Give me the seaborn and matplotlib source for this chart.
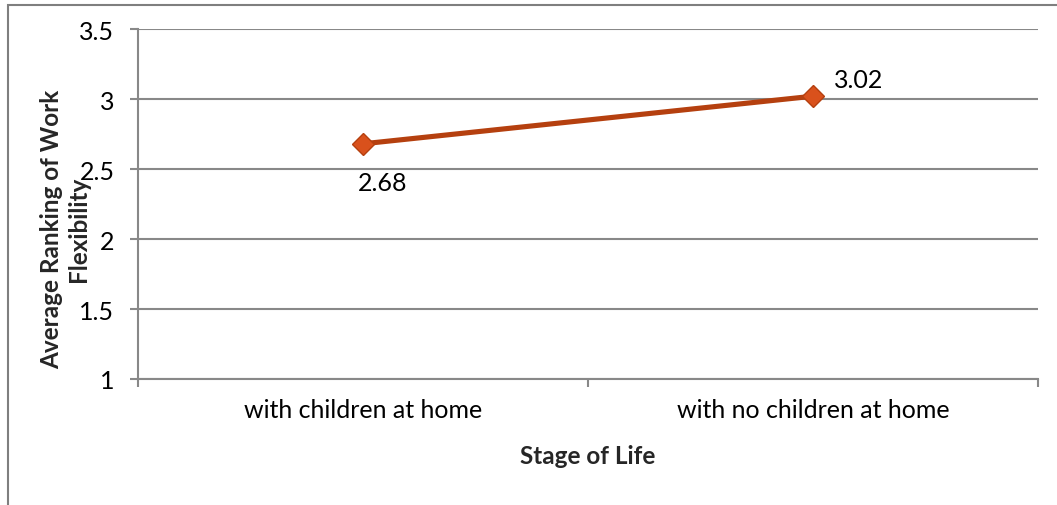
import matplotlib
matplotlib.use("Agg")
import matplotlib.pyplot as plt
from matplotlib.patches import Rectangle
import seaborn as sns
import pandas as pd

# Data
stages = ["with children at home", "with no children at home"]
avg_ranking = [2.68, 3.02]
y_ticks = [1, 1.5, 2, 2.5, 3, 3.5]
y_tick_labels = ["1", "1.5", "2", "2.5", "3", "3.5"]

sns.set_style("white")
plt.rcParams["font.family"] = ["Lato", "DejaVu Sans"]
plt.rcParams["text.color"] = "#000000"

df = pd.DataFrame({"stage": stages, "ranking": avg_ranking})

fig = plt.figure(figsize=(10.57, 5.06), dpi=100)
ax = fig.add_axes([138 / 1057, 1 - 380 / 506, 900 / 1057, 350 / 506])

grid_col = "#888888"
fs = 18

# Outer chart frame
fig.patches.append(Rectangle((8 / 1057, -0.05), 1.2, 1 - 6 / 506 + 0.05,
                             transform=fig.transFigure, fill=False,
                             edgecolor="#7f7f7f", linewidth=1.5, zorder=0))

sns.lineplot(data=df, x="stage", y="ranking", ax=ax, color="#b5400f",
             linewidth=3.7, marker="D", markersize=11,
             markerfacecolor="#d9511c", markeredgecolor="#b5400f",
             markeredgewidth=1, zorder=5)

ax.set_xlim(-0.5, 1.5)
ax.set_ylim(1, 3.5)
ax.set_yticks(y_ticks)
ax.set_yticklabels(y_tick_labels)
ax.yaxis.grid(True, color=grid_col, linewidth=1.5)
ax.set_axisbelow(True)

ax.set_xticks([0, 1])
ax.set_xticklabels(stages)
ax.set_xticks([-0.5, 0.5, 1.5], minor=True)
ax.tick_params(axis="x", which="major", length=0, pad=14, labelsize=fs,
               labelcolor="black")
ax.tick_params(axis="x", which="minor", length=6, width=1.5, color=grid_col,
               direction="out", bottom=True)
ax.tick_params(axis="y", length=6, width=1.5, color=grid_col, direction="out",
               left=True, pad=11, labelsize=fs, labelcolor="black")

for side in ["top", "right"]:
    ax.spines[side].set_visible(False)
for side in ["left", "bottom"]:
    ax.spines[side].set_color(grid_col)
    ax.spines[side].set_linewidth(1.5)

ax.set_xlabel("Stage of Life", fontsize=17.5, fontweight="bold", labelpad=16)
ax.set_ylabel("Average Ranking of Work\nFlexibility", fontsize=17.5,
              fontweight="bold", linespacing=1.2, multialignment="center")
ax.yaxis.set_label_coords(-0.053, 0.431)

# Value labels
ax.annotate(f"{avg_ranking[0]:.2f}", (0, avg_ranking[0]), xytext=(20, -39),
            textcoords="offset pixels", ha="center", va="center", fontsize=fs)
ax.annotate(f"{avg_ranking[1]:.2f}", (1, avg_ranking[1]), xytext=(46, 17),
            textcoords="offset pixels", ha="center", va="center", fontsize=fs)

fig.savefig("out.png", dpi=100)
